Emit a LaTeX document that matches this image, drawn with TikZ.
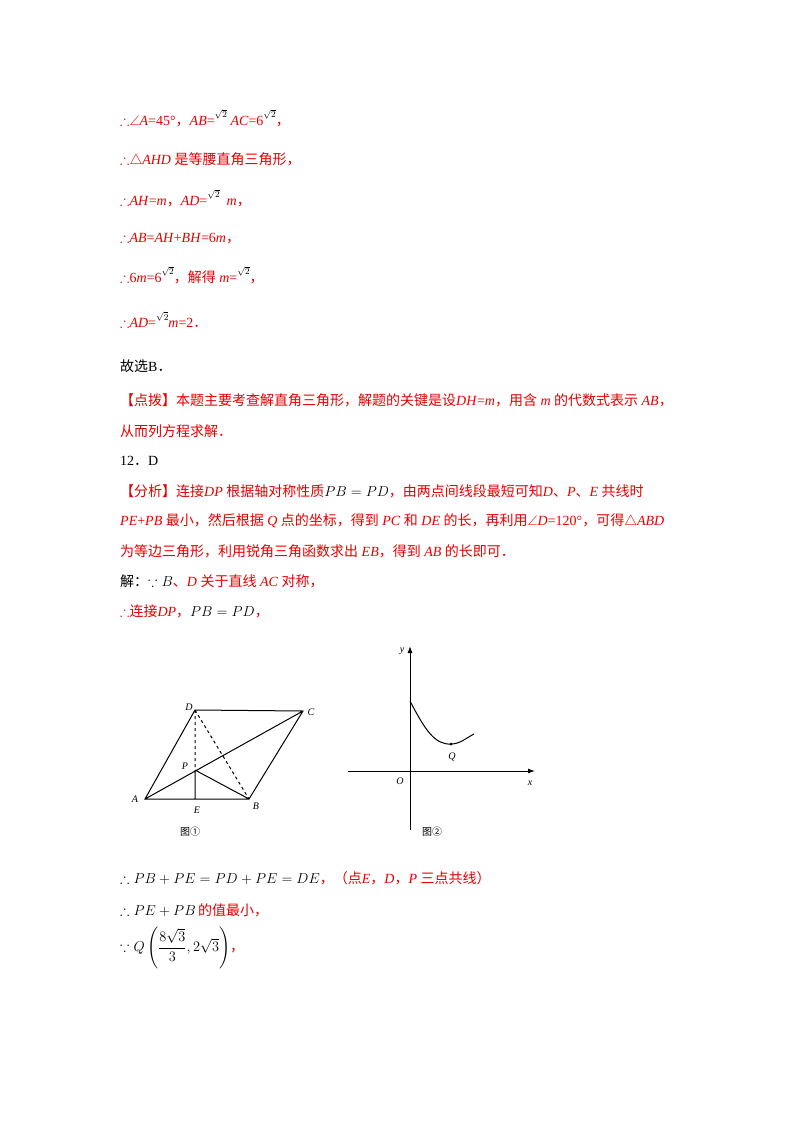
\documentclass[tikz,border=0pt]{standalone}
\usepackage{amsmath,amssymb}
\usepackage{fontspec}
\setmainfont{Liberation Serif}
\newfontfamily\cjk{Noto Sans CJK SC}
\newcommand\zh[1]{{\cjk #1}}
\newcommand\sq[1]{\raisebox{.55em}{\color{black}\small$\sqrt{#1}$}}
\newcommand\tf{$\therefore$}
\newcommand\ang{$\angle$}
\newcommand\tri{$\triangle$}
\usetikzlibrary{arrows.meta}
\definecolor{rd}{RGB}{230,0,0}
\tikzset{ln/.style={anchor=west,inner sep=0pt,font=\fontsize{14}{16}\selectfont,text=rd},
 lb/.style={font=\fontsize{10}{12}\selectfont\itshape,inner sep=1pt},
 seg/.style={line width=1pt}}
\begin{document}
\begin{tikzpicture}[x=1pt,y=-1pt]
\useasboundingbox[fill=white] (0,0) rectangle (800,1132);
\node[ln] (l1) at (120,118) {\tf\ang\textit{A}=45°\zh{，}\textit{AB}=\sq2 \textit{AC}=6\sq2\zh{，}};
\node[ln] (l2) at (120,160) {\tf\tri\textit{AHD} \zh{是等腰直角三角形，}};
\node[ln] (l3) at (120,198) {\tf\textit{AH}=\textit{m}\zh{，}\textit{AD}=\sq2\ \ \textit{m}\zh{，}};
\node[ln] (l4) at (120,238) {\tf\textit{AB}=\textit{AH}+\textit{BH}=6\textit{m}\zh{，}};
\node[ln] (l5) at (120,275) {\tf 6\textit{m}=6\sq2\zh{，解得} \textit{m}=\sq2\zh{，}};
\node[ln] (l6) at (120,320) {\tf\textit{AD}=\sq2\textit{m}=2\zh{．}};
\node[ln,text=black] (l7) at (120,366) {\zh{故选}B\zh{．}};
\node[ln] (l8) at (120,400) {\zh{【点拨】本题主要考查解直角三角形，解题的关键是设}\textit{DH}=\textit{m}\zh{，用含} \textit{m} \zh{的代数式表示} \textit{AB}\zh{，}};
\node[ln] (l9) at (120,431) {\zh{从而列方程求解．}};
\node[ln,text=black] (l10) at (120,461) {12\zh{．}D};
\node[ln] (l11) at (120,491) {\zh{【分析】连接}\textit{DP} \zh{根据轴对称性质}\textcolor{black}{$PB=PD$}\zh{，由两点间线段最短可知}\textit{D}\zh{、}\textit{P}\zh{、}\textit{E} \zh{共线时}};
\node[ln] (l12) at (120,521) {\textit{PE}+\textit{PB} \zh{最小，然后根据} \textit{Q} \zh{点的坐标，得到} \textit{PC} \zh{和} \textit{DE} \zh{的长，再利用}\ang\textit{D}=120°\zh{，可得}\tri\textit{ABD}};
\node[ln] (l13) at (120,551) {\zh{为等边三角形，利用锐角三角函数求出} \textit{EB}\zh{，得到} \textit{AB} \zh{的长即可．}};
\node[ln] (l14) at (120,581) {\textcolor{black}{\zh{解：}$\because B$}\zh{、}\textit{D} \zh{关于直线} \textit{AC} \zh{对称，}};
\node[ln] (l15) at (120,611) {\tf\zh{连接}\textit{DP}\zh{，}\textcolor{black}{$PB=PD$}\zh{，}};
% figure 1
\coordinate (A) at (145,799); \coordinate (B) at (249,799);
\coordinate (C) at (303,711); \coordinate (D) at (195,710);
\coordinate (P) at (195,770); \coordinate (E) at (195,799);
\draw[seg] (A)--(B)--(C)--(D)--cycle (A)--(C) (P)--(B) (P)--(E);
\draw[seg,dashed] (D)--(B) (D)--(P);
\node[lb] (nA) at (135,799) {A}; \node[lb] (nB) at (256,806) {B};
\node[lb] (nC) at (311,712) {C}; \node[lb] (nD) at (189,707) {D};
\node[lb] (nP) at (185,766) {P}; \node[lb] (nE) at (197,810) {E};
\node[font=\cjk\fontsize{10}{12}\selectfont] (f1) at (190,832) {图①};
% figure 2
\coordinate (x0) at (348,771); \coordinate (x1) at (535,771);
\coordinate (y0) at (410,830); \coordinate (y1) at (410,646);
\draw[seg,-{Latex[length=7pt,width=5pt]}] (x0)--(x1);
\draw[seg,-{Latex[length=7pt,width=5pt]}] (y0)--(y1);
\coordinate (Q) at (451,744);
\draw[seg] (410,701) .. controls (425,730) and (435,745) .. (Q) .. controls (460,744) and (466,738) .. (474,734);
\fill (Q) circle (1.5);
\node[lb] (nQ) at (452,757) {Q}; \node[lb] (nO) at (400,781) {O};
\node[lb] (nx) at (530,783) {x}; \node[lb] (ny) at (402,651) {y};
\node[font=\cjk\fontsize{10}{12}\selectfont] (f2) at (432,832) {图②};
\node[ln] (l16) at (120,878) {\textcolor{black}{$\therefore PB+PE=PD+PE=DE$}\zh{，（点}\textit{E}\zh{，}\textit{D}\zh{，}\textit{P} \zh{三点共线）}};
\node[ln] (l17) at (120,910) {\textcolor{black}{$\therefore PE+PB$}\,\zh{的值最小，}};
\node[ln] (l18) at (120,948) {\textcolor{black}{$\because Q\left(\dfrac{8\sqrt3}{3},2\sqrt3\right)$}\zh{，}};
\end{tikzpicture}
\end{document}
